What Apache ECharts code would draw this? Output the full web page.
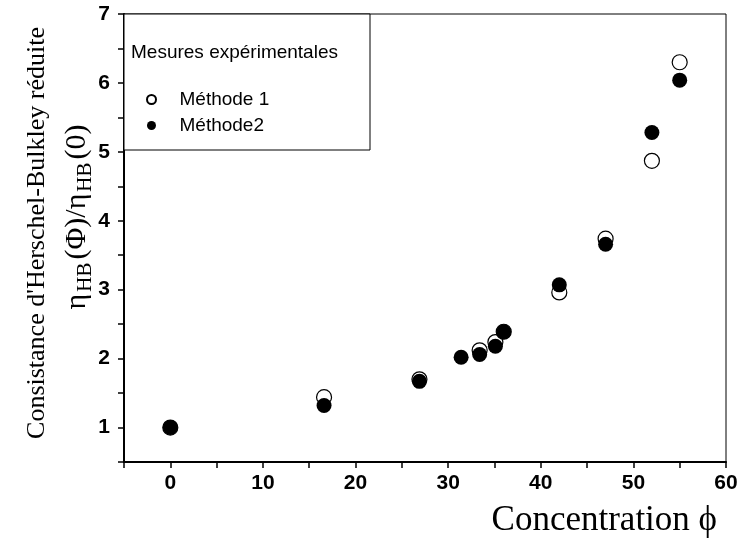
<!DOCTYPE html>
<html>
<head>
<meta charset="utf-8">
<script src="https://cdn.jsdelivr.net/npm/echarts@6/dist/echarts.min.js"></script>
<style>
  html, body { margin: 0; padding: 0; background: #fff; }
  #main { width: 741px; height: 546px; }
</style>
</head>
<body>
<div id="main"></div>
<script>
// donnees
var concentration1 = [0, 16.6, 26.9, 33.4, 35.1, 36.0, 42.0, 47.0, 52.0, 55.0];
var methode1 = [1.0, 1.44, 1.70, 2.12, 2.24, 2.39, 2.96, 3.74, 4.87, 6.30];
var concentration2 = [0, 16.6, 26.9, 31.4, 33.4, 35.1, 36.0, 42.0, 47.0, 52.0, 55.0];
var methode2 = [1.0, 1.32, 1.67, 2.02, 2.06, 2.18, 2.39, 3.07, 3.66, 5.28, 6.04];
var xTicks = [-5, 60, 5];   // min, max, pas
var yTicks = [0.5, 7, 0.5];

function pairs(xs, ys) {
  return xs.map(function (x, i) { return [x, ys[i]]; });
}

var chart = echarts.init(document.getElementById('main'));

var option = {
  backgroundColor: '#fff',
  animation: false,
  grid: {
    left: 124,
    right: 15,
    top: 14,
    bottom: 84,
    show: true,
    borderColor: '#000',
    borderWidth: 1
  },
  xAxis: {
    type: 'value',
    min: xTicks[0],
    max: xTicks[1],
    interval: xTicks[2],
    splitLine: { show: false },
    axisLine: { onZero: false, lineStyle: { color: '#000', width: 2 } },
    axisTick: { inside: false, length: 6, lineStyle: { color: '#000', width: 1.5 } },
    axisLabel: {
      margin: 11,
      color: '#000',
      fontFamily: 'Liberation Sans, Arial',
      fontWeight: 'bold',
      fontSize: 21,
      formatter: function (v) { return v % 10 === 0 ? String(v) : ''; }
    }
  },
  yAxis: {
    type: 'value',
    min: yTicks[0],
    max: yTicks[1],
    interval: yTicks[2],
    splitLine: { show: false },
    axisLine: { onZero: false, lineStyle: { color: '#000', width: 2 } },
    axisTick: { inside: false, length: 6, lineStyle: { color: '#000', width: 1.5 } },
    axisLabel: {
      margin: 14,
      color: '#000',
      fontFamily: 'Liberation Sans, Arial',
      fontWeight: 'bold',
      fontSize: 21,
      formatter: function (v) { return Number.isInteger(v) ? String(v) : ''; }
    }
  },
  legend: {
    orient: 'vertical',
    z: 10,
    left: 146,
    top: 90,
    itemWidth: 10,
    itemHeight: 9,
    itemGap: 7,
    padding: 0,
    textStyle: {
      color: '#000',
      fontFamily: 'Liberation Sans, Arial',
      fontSize: 19,
      lineHeight: 19,
      padding: [0, 0, 0, 18]
    },
    data: ['Méthode 1', 'Méthode2']
  },
  graphic: [
    {
      type: 'rect',
      z: 3,
      shape: { x: 124, y: 14, width: 246, height: 136 },
      style: { fill: '#fff', stroke: '#000', lineWidth: 1 }
    },
    {
      type: 'text',
      z: 10,
      x: 131,
      y: 53,
      style: {
        text: 'Mesures expérimentales',
        fill: '#000',
        font: '19px "Liberation Sans", Arial',
        verticalAlign: 'middle'
      }
    },
    {
      type: 'text',
      x: 37,
      y: 233,
      rotation: Math.PI / 2,
      style: {
        text: "Consistance d'Herschel-Bulkley réduite",
        fill: '#000',
        font: '26px "Liberation Serif", "Times New Roman"',
        align: 'center',
        verticalAlign: 'middle'
      }
    },
    {
      type: 'text',
      x: 77,
      y: 217,
      rotation: Math.PI / 2,
      style: {
        text: '{e|η}{s|HB}{e|(Φ)/η}{s|HB}{e|(0)}',
        fill: '#000',
        align: 'center',
        verticalAlign: 'middle',
        rich: {
          e: { fontFamily: 'Liberation Serif', fontSize: 30, color: '#000' },
          s: { fontFamily: 'Liberation Serif', fontSize: 21, color: '#000', padding: [17, 3, 0, 2] }
        }
      }
    },
    {
      type: 'text',
      x: 717,
      y: 521,
      style: {
        text: 'Concentration ϕ',
        fill: '#000',
        font: '35px "Liberation Serif", "Times New Roman"',
        align: 'right',
        verticalAlign: 'middle'
      }
    }
  ],
  series: [
    {
      name: 'Méthode 1',
      type: 'scatter',
      symbol: 'circle',
      symbolSize: 15,
      z: 2,
      itemStyle: { color: '#fff', borderColor: '#000', borderWidth: 1.2, opacity: 1 },
      data: pairs(concentration1, methode1)
    },
    {
      name: 'Méthode2',
      type: 'scatter',
      symbol: 'circle',
      symbolSize: 15,
      z: 3,
      itemStyle: { color: '#000', opacity: 1 },
      data: pairs(concentration2, methode2)
    }
  ]
};

chart.setOption(option);
</script>
</body>
</html>
